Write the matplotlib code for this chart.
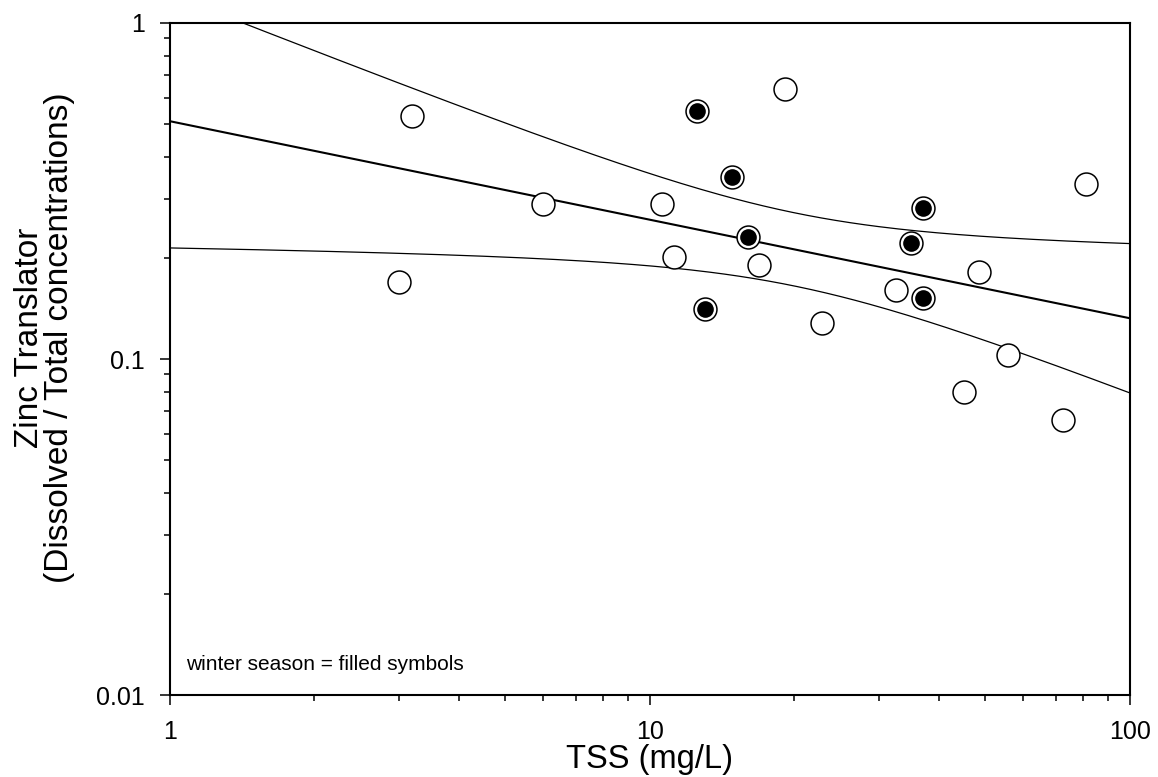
import numpy as np
import matplotlib
matplotlib.use("Agg")
import matplotlib.pyplot as plt

plt.rcParams['font.family'] = ['Liberation Sans', 'DejaVu Sans']

# summer samples (open symbols)
tss_open = [3.0, 3.19, 5.98, 10.6, 11.2, 19.1, 16.9, 22.8, 32.5, 48.5, 55.7, 45.1, 72.5, 81.0]
zn_open = [0.170, 0.527, 0.289, 0.290, 0.201, 0.634, 0.190, 0.128, 0.161, 0.181, 0.1026, 0.0796, 0.0658, 0.331]

# winter samples (filled symbols)
tss_filled = [12.5, 14.8, 16.0, 13.0, 37.0, 35.0, 37.0]
zn_filled = [0.549, 0.347, 0.230, 0.141, 0.281, 0.221, 0.152]

t_95 = 2.093  # t(0.975, df=19)

# log-log regression with 95% confidence band
lx = np.log10(tss_open + tss_filled)
ly = np.log10(zn_open + zn_filled)
n = len(lx)
slope, intercept = np.polyfit(lx, ly, 1)
resid = ly - (slope * lx + intercept)
s = np.sqrt(np.sum(resid ** 2) / (n - 2))
sxx = np.sum((lx - lx.mean()) ** 2)

xfit = np.linspace(0, 2, 200)
yfit = slope * xfit + intercept
half = t_95 * s * np.sqrt(1 / n + (xfit - lx.mean()) ** 2 / sxx)

fig, ax = plt.subplots(figsize=(11.58, 7.77), dpi=100)
fig.subplots_adjust(left=0.1468, right=0.9758, top=0.9704, bottom=0.1055)

ax.plot(10 ** xfit, 10 ** yfit, color='black', lw=1.5)
ax.plot(10 ** xfit, 10 ** (yfit + half), color='black', lw=0.9)
ax.plot(10 ** xfit, 10 ** (yfit - half), color='black', lw=0.9)

ax.plot(tss_open, zn_open, 'o', ms=16.5, mfc='white', mec='black', mew=1.1, ls='none', zorder=3)
ax.plot(tss_filled, zn_filled, 'o', ms=16.5, mfc='white', mec='black', mew=1.1, ls='none', zorder=3)
ax.plot(tss_filled, zn_filled, 'o', ms=12, mfc='black', mec='black', mew=0, ls='none', zorder=4)

ax.set_xscale('log')
ax.set_yscale('log')
ax.set_xlim(1, 100)
ax.set_ylim(0.01, 1)
ax.set_xticks([1, 10, 100])
ax.set_xticklabels(['1', '10', '100'])
ax.set_yticks([0.01, 0.1, 1])
ax.set_yticklabels(['0.01', '0.1', '1'])

ax.tick_params(which='major', direction='out', length=7, width=1.1, labelsize=18, pad=11)
ax.tick_params(which='minor', direction='out', length=4, width=1.1)
ax.tick_params(top=False, right=False, which='both')
for sp in ax.spines.values():
    sp.set_linewidth(1.5)

ax.set_xlabel('TSS (mg/L)', fontsize=23.5, labelpad=0)
ax.set_ylabel('Zinc Translator\n(Dissolved / Total concentrations)', fontsize=24,
              linespacing=0.95)
ax.yaxis.set_label_coords(-0.099, 0.531)

ax.text(0.017, 0.037, 'winter season = filled symbols', transform=ax.transAxes, fontsize=15)

fig.savefig('out.png', dpi=100)
